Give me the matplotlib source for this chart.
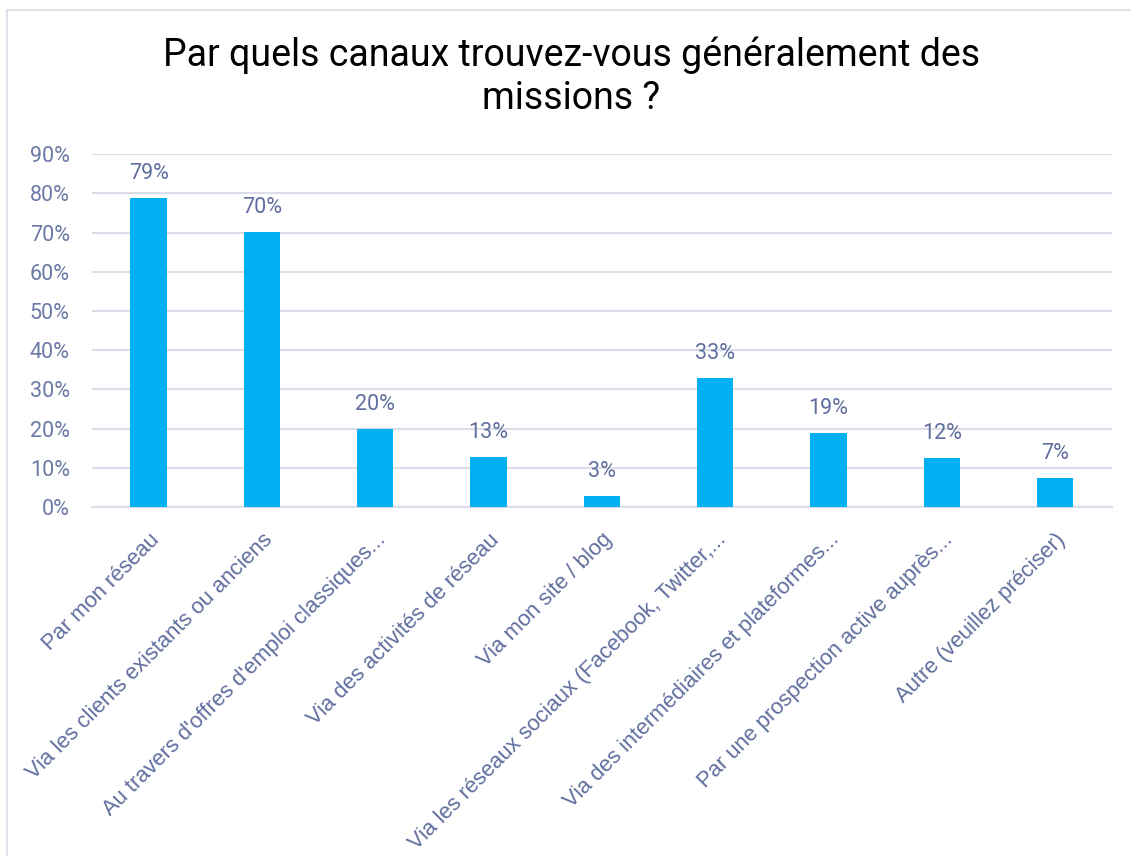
import matplotlib.pyplot as plt
from matplotlib.lines import Line2D

categories = [
    "Par mon réseau",
    "Via les clients existants ou anciens",
    "Au travers d'offres d'emploi classiques...",
    "Via des activités de réseau",
    "Via mon site / blog",
    "Via les réseaux sociaux (Facebook, Twitter,...",
    "Via des intermédiaires et plateformes...",
    "Par une prospection active auprès...",
    "Autre (veuillez préciser)",
]
values = [78.8, 70.1, 20.0, 12.7, 2.9, 33.0, 18.9, 12.4, 7.4]
labels = ["79%", "70%", "20%", "13%", "3%", "33%", "19%", "12%", "7%"]
yticks = [0, 10, 20, 30, 40, 50, 60, 70, 80, 90]

bar_color = "#00b0f0"
text_color = "#5f6e9e"
grid_color = "#dcdde8"

fig = plt.figure(figsize=(11.31, 8.56), dpi=100)
ax = fig.add_axes([0.0813, 0.4077, 0.9017, 0.4123])

x = range(len(categories))
bars = ax.bar(x, values, width=0.32, color=bar_color, zorder=3)

for b, lab in zip(bars, labels):
    ax.annotate(lab, (b.get_x() + b.get_width() / 2, b.get_height()),
                xytext=(0, 10), textcoords="offset points",
                ha="center", va="bottom", color=text_color,
                fontsize=15.5, family="Roboto")

ax.set_xlim(-0.5, len(categories) - 0.5)
ax.set_ylim(0, 90)
ax.set_yticks(yticks)
ax.set_yticklabels([f"{t}%" for t in yticks], color="#6b79a6",
                   fontsize=15.5, family="Roboto")
ax.yaxis.grid(True, color=grid_color, linewidth=1.5, zorder=0)
ax.tick_params(axis="y", length=0, pad=16)
ax.tick_params(axis="x", length=0, pad=16)

ax.set_xticks(list(x))
ax.set_xticklabels(categories, rotation=45, ha="right", va="top",
                   rotation_mode="anchor", color=text_color,
                   fontsize=15.8, family="Liberation Sans")

for side in ["top", "right", "left"]:
    ax.spines[side].set_visible(False)
ax.spines["bottom"].set_color(grid_color)
ax.spines["bottom"].set_linewidth(1.5)

fig.text(0.505, 0.91, "Par quels canaux trouvez-vous généralement des\nmissions ?",
         ha="center", va="center", fontsize=27, family="Roboto",
         color="black", linespacing=1.2)

# cadre du graphique
fig.add_artist(Line2D([7 / 1131, 1], [1 - 10 / 856, 1 - 10 / 856],
                      color=grid_color, linewidth=1.2))
fig.add_artist(Line2D([7 / 1131, 7 / 1131], [0, 1 - 10 / 856],
                      color=grid_color, linewidth=1.2))

fig.savefig("out.png", dpi=100)
